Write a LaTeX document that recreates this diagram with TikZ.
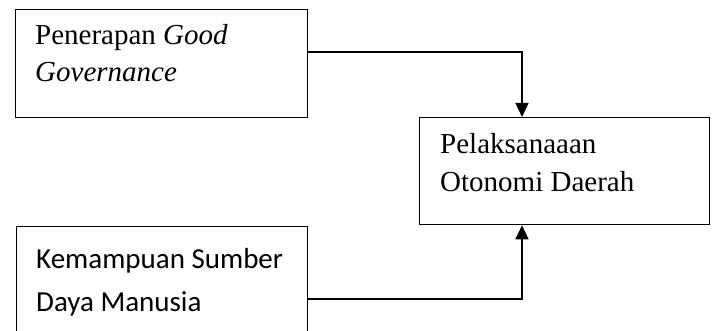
\documentclass[tikz,border=0pt]{standalone}
\usepackage{fontspec}
\setmainfont{Liberation Serif}
\newfontfamily\bodysans{Carlito}
\usetikzlibrary{arrows.meta}
\begin{document}
\begin{tikzpicture}[x=1pt,y=-1pt,
  box/.style={draw,line width=1.3pt,inner sep=0pt,anchor=north west},
  label/.style={anchor=base west,inner sep=0pt,align=left},
  link/.style={line width=1.3pt,-{Triangle[length=14pt,width=13pt]}}]
  \useasboundingbox (0,0) rectangle (714,331);
  % boxes
  \node[box,minimum width=292pt,minimum height=108pt] (gg) at (15,9) {};
  \node[box,minimum width=290pt,minimum height=107pt] (od) at (419,117) {};
  \node[box,minimum width=291pt,minimum height=130pt] (sdm) at (16,226) {};
  % texts (anchored at the baseline of their last line)
  \node[label,font=\fontsize{29}{37}\selectfont] (ggt) at (35,82) {Penerapan \textit{Good}\\\textit{Governance}};
  \node[label,font=\fontsize{29}{39}\selectfont] (odt) at (440,192) {Pelaksanaaan\\Otonomi Daerah};
  \node[label,font=\bodysans\fontsize{29}{43}\selectfont] (sdmt) at (36,311) {Kemampuan Sumber\\Daya Manusia};
  % connectors
  \coordinate (ggc) at (gg.east |- 0,52);
  \coordinate (sdmc) at (sdm.east |- 0,299);
  \draw[link] (ggc) -| (522,0 |- od.north);
  \draw[link] (sdmc) -| (522,0 |- od.south);
\end{tikzpicture}
\end{document}
